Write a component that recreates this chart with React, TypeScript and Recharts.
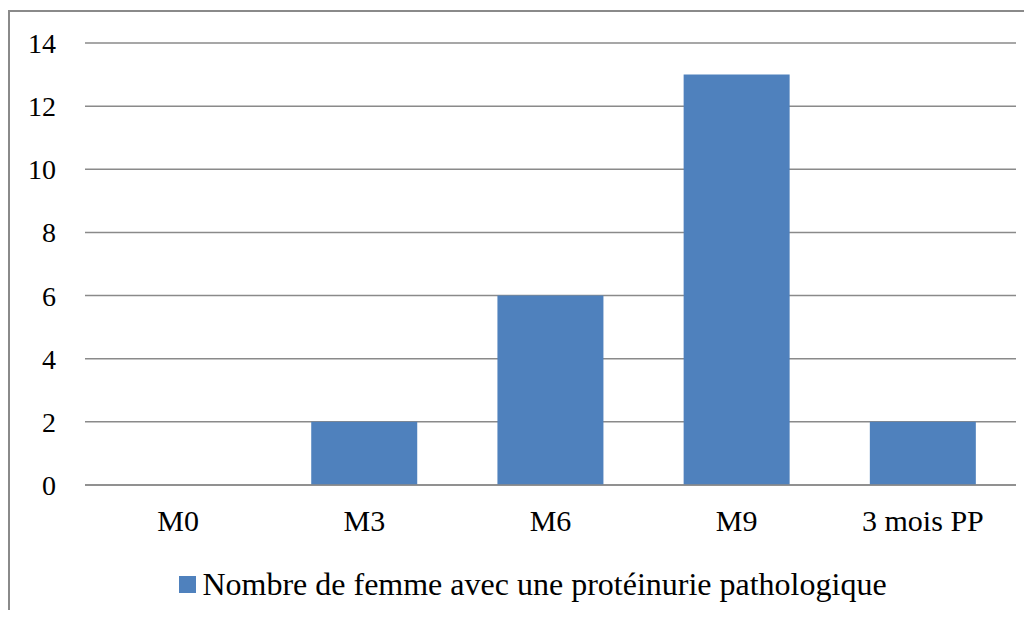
import { BarChart, Bar, XAxis, YAxis, CartesianGrid, Legend } from 'recharts';

// Categories and values
const periods = ['M0', 'M3', 'M6', 'M9', '3 mois PP'];
const counts = [0, 2, 6, 13, 2];
const yTicks = [0, 2, 4, 6, 8, 10, 12, 14];
const seriesName = 'Nombre de femme avec une protéinurie pathologique';

const data = periods.map((p, i) => ({ period: p, value: counts[i] }));

const serifFamily = 'Times New Roman, Liberation Serif, Tinos, serif';
const gridColor = '#8a8a8a';

function LegendContent() {
  return (
    <div style={{ display: 'flex', justifyContent: 'center', alignItems: 'center', fontSize: 32, color: '#000', paddingLeft: 50 }}>
      <span style={{ display: 'inline-block', width: 17, height: 17, background: '#4F81BD', marginRight: 6 }} />
      <span style={{ fontFamily: serifFamily }}>{seriesName}</span>
    </div>
  );
}

export default function App() {
  return (
    <div style={{ position: 'relative', margin: -8, width: 1032, height: 618, fontFamily: serifFamily }}>
      <div
        style={{
          position: 'absolute',
          left: 8,
          top: 10,
          width: 1022,
          height: 608,
          borderLeft: '2px solid #8a8a8a',
          borderTop: '2px solid #8a8a8a',
        }}
      />
      <BarChart
        width={1032}
        height={618}
        data={data}
        margin={{ top: 43, right: 16, bottom: 0, left: 0 }}
        barCategoryGap="21.5%"
        style={{ fontFamily: serifFamily }}
      >
        <CartesianGrid vertical={false} stroke={gridColor} strokeWidth={1.5} />
        <XAxis
          dataKey="period"
          axisLine={{ stroke: gridColor, strokeWidth: 1.5 }}
          tickLine={false}
          tickSize={0}
          tickMargin={25}
          height={90}
          fontFamily={serifFamily}
          tick={{ fill: '#000', fontSize: 30, fontFamily: serifFamily }}
        />
        <YAxis
          domain={[0, 14]}
          ticks={yTicks}
          width={85}
          axisLine={false}
          tickLine={false}
          tickSize={0}
          tickMargin={29}
          fontFamily={serifFamily}
          tick={{ fill: '#000', fontSize: 28, fontFamily: serifFamily }}
        />
        <Legend verticalAlign="bottom" content={<LegendContent />} height={43} wrapperStyle={{ bottom: 9 }} />
        <Bar dataKey="value" name={seriesName} fill="#4F81BD" isAnimationActive={false} />
      </BarChart>
    </div>
  );
}
